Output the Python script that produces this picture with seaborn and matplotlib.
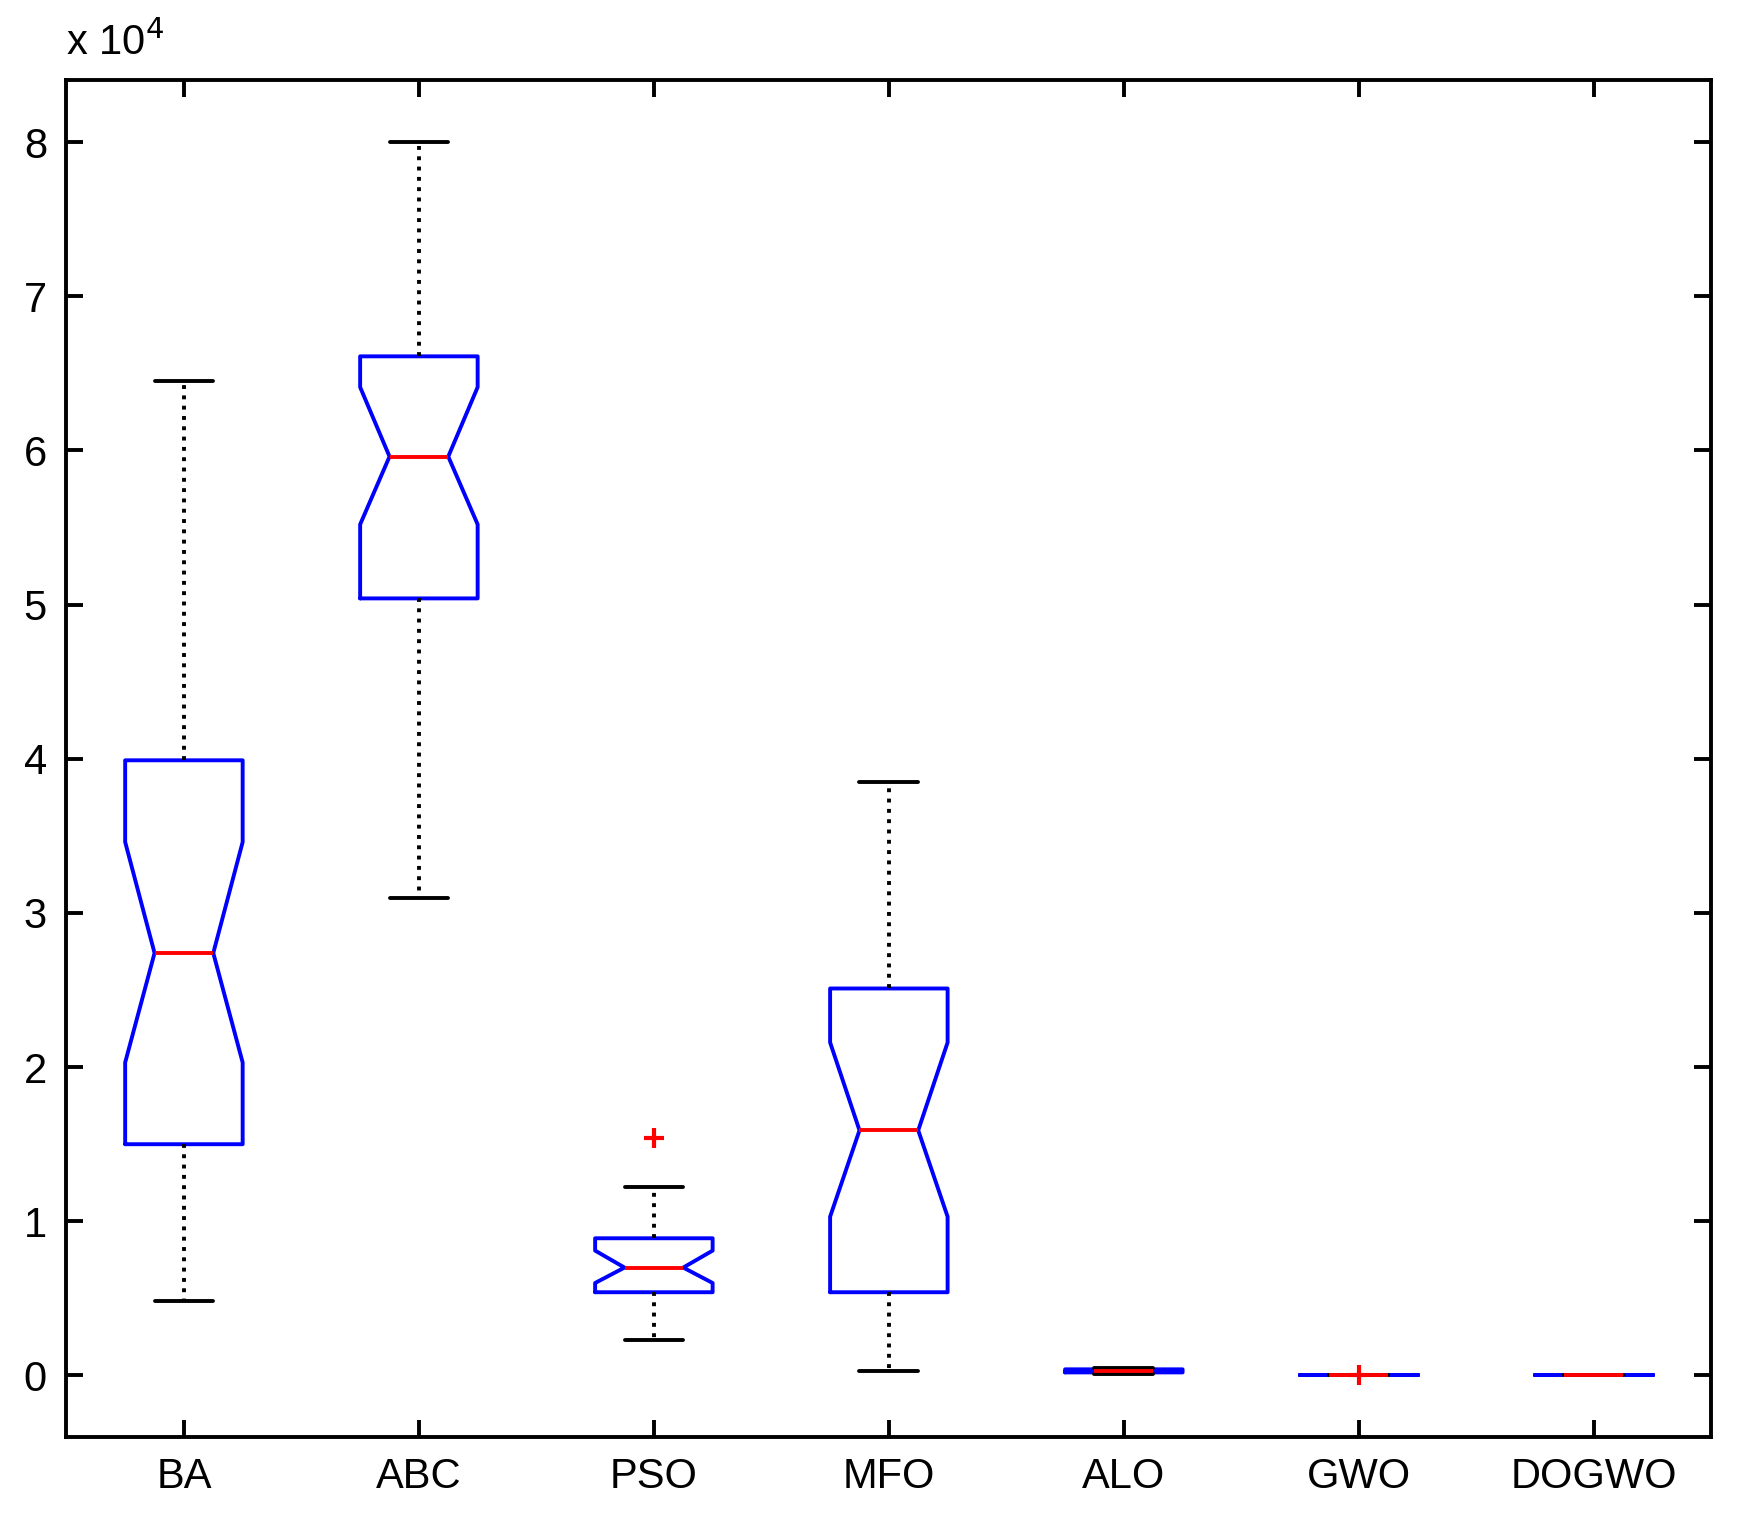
import matplotlib
matplotlib.use("Agg")
import matplotlib.pyplot as plt
import seaborn as sns

# box statistics, in units of 1e4
labels = ["BA", "ABC", "PSO", "MFO", "ALO", "GWO", "DOGWO"]
whislo = [0.486, 3.10, 0.23, 0.03, 0.01, 0.0, 0.0]
q1 = [1.50, 5.04, 0.54, 0.54, 0.02, 0.0, 0.0]
med = [2.74, 5.96, 0.70, 1.59, 0.03, 0.0, 0.0]
q3 = [3.99, 6.61, 0.89, 2.51, 0.04, 0.0, 0.0]
whishi = [6.45, 8.0, 1.22, 3.85, 0.05, 0.0, 0.0]
notch_lo = [2.03, 5.52, 0.60, 1.03, 0.025, 0.0, 0.0]
notch_hi = [3.46, 6.41, 0.81, 2.16, 0.035, 0.0, 0.0]
outliers = [[], [], [1.54], [], [], [0.0], []]

sns.set_style("ticks")
plt.rcParams['font.family'] = ['Liberation Sans', 'DejaVu Sans']
plt.rcParams['text.color'] = 'black'

stats = []
for i, name in enumerate(labels):
    stats.append({
        'label': name, 'whislo': whislo[i], 'q1': q1[i], 'med': med[i],
        'q3': q3[i], 'whishi': whishi[i], 'cilo': notch_lo[i],
        'cihi': notch_hi[i], 'fliers': outliers[i],
    })

fig = plt.figure(figsize=(17.48, 15.16), dpi=100)
ax = fig.add_axes([0.038, 0.052, 0.941, 0.895])
ax.bxp(stats, widths=0.5, capwidths=0.25, shownotches=True,
       boxprops=dict(color='blue', linewidth=2.8),
       medianprops=dict(color='red', linewidth=2.8),
       whiskerprops=dict(color='black', linestyle=':', linewidth=2.8),
       capprops=dict(color='black', linewidth=2.8),
       flierprops=dict(marker='+', markeredgecolor='red', markersize=14,
                       markeredgewidth=3, linestyle='none'))

ax.set_ylim(-0.4, 8.4)
ax.set_xlim(0.5, 7.5)
ax.set_yticks(range(0, 9))
for s in ax.spines.values():
    s.set_linewidth(2.8)
    s.set_color('black')
ax.tick_params(direction='in', top=True, right=True, length=12, width=2.8,
               labelsize=30, pad=14, colors='black')
ax.text(0.0, 1.012, r"x 10$^{4}$", transform=ax.transAxes, fontsize=30,
        ha='left', va='bottom', color='black')
fig.savefig("out.png", dpi=100)
